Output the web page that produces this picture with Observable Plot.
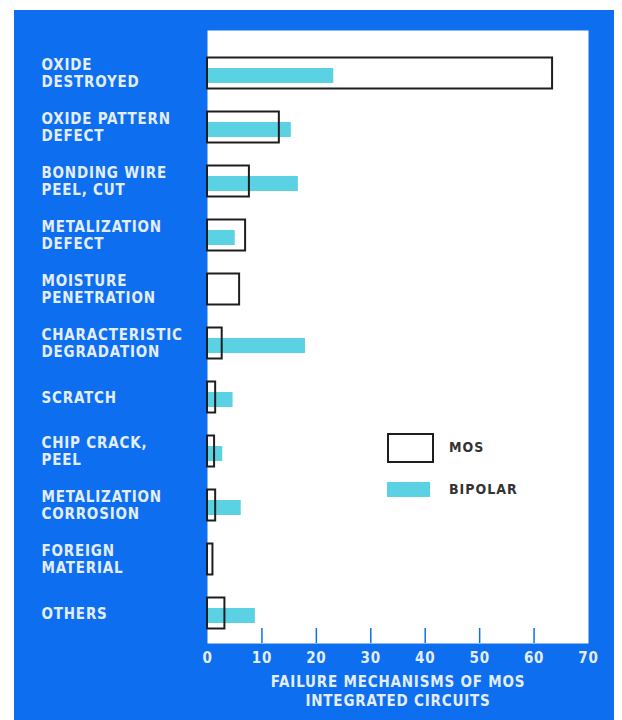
<!DOCTYPE html>
<html>
<head>
<meta charset="utf-8">
<script src="https://cdn.jsdelivr.net/npm/d3@7"></script>
<script src="https://cdn.jsdelivr.net/npm/@observablehq/plot@0.6"></script>
<style>
  html, body { margin: 0; padding: 0; background: #ffffff; }
  #wrap { position: relative; width: 622px; height: 720px; overflow: hidden; }
  #panel { position: absolute; left: 14px; top: 10px; width: 600px; height: 710px; background: #0e6ef0; }
  #chart { position: absolute; left: 0; top: 0; }
  .legend { position: absolute; font-family: "DejaVu Sans Condensed", "DejaVu Sans", sans-serif; font-weight: bold; font-size: 14px; letter-spacing: 1px; color: #333; }
  .sw { position: absolute; box-sizing: border-box; }
</style>
</head>
<body>
<div id="wrap">
  <div id="panel"></div>
  <div id="chart"></div>
  <div class="sw" style="left:387px; top:433px; width:47px; height:30px; border:2px solid #1e1e1e; background:#fff;"></div>
  <div class="legend" style="left:449px; top:439px;">MOS</div>
  <div class="sw" style="left:387px; top:482px; width:43px; height:15px; background:#5bd2e4;"></div>
  <div class="legend" style="left:449px; top:481px;">BIPOLAR</div>
</div>
<script>
const categories = [
  "OXIDE\nDESTROYED",
  "OXIDE PATTERN\nDEFECT",
  "BONDING WIRE\nPEEL, CUT",
  "METALIZATION\nDEFECT",
  "MOISTURE\nPENETRATION",
  "CHARACTERISTIC\nDEGRADATION",
  "SCRATCH",
  "CHIP CRACK,\nPEEL",
  "METALIZATION\nCORROSION",
  "FOREIGN\nMATERIAL",
  "OTHERS"
];
const mosValues     = [63.4, 13.2, 7.7, 7.0, 5.9, 2.7, 1.5, 1.3, 1.5, 1.0, 3.2];
const bipolarValues = [23.2, 15.4, 16.7, 5.1, 0, 18.0, 4.7, 2.8, 6.2, 0, 8.8];
const xTicks = [0, 10, 20, 30, 40, 50, 60, 70];
const xTitle = "FAILURE MECHANISMS OF MOS\nINTEGRATED CIRCUITS";

const blue = "#0e6ef0";
const cyan = "#5bd2e4";
const textColor = "#e4eefa";
const font = "'DejaVu Sans Condensed', 'DejaVu Sans', sans-serif";

const mos = categories.map((c, i) => ({cat: c, value: mosValues[i]}));
const bipolar = categories.map((c, i) => ({cat: c, value: bipolarValues[i]}));

const chart = Plot.plot({
  width: 622,
  height: 720,
  marginLeft: 207,
  marginRight: 34,
  marginTop: 30,
  marginBottom: 77,
  style: {background: "transparent", fontFamily: font, fontWeight: "bold", overflow: "visible"},
  x: {domain: [0, 70], ticks: xTicks},
  y: {type: "band", domain: categories, range: [45, 640], padding: 0, axis: null},
  marks: [
    Plot.frame({fill: "white", stroke: "none"}),
    Plot.ruleX(xTicks.slice(1, -1), {x: d => d, insetTop: 598, stroke: blue, strokeWidth: 1.5}),
    Plot.barX(bipolar, {x: "value", y: "cat", fill: cyan, insetTop: 22, insetBottom: 17}),
    Plot.barX(mos, {x: "value", y: "cat", fill: "none", stroke: "#1e1e1e", strokeWidth: 2, insetTop: 11.5, insetBottom: 11.5}),
    Plot.axisX({ticks: xTicks, tickSize: 0, tickPadding: 9, fill: textColor, fontSize: 15, label: null, fontWeight: "bold"}),
    Plot.text(categories, {y: d => d, text: d => d, frameAnchor: "left", dx: -166, textAnchor: "start",
      fill: textColor, fontSize: 15, lineHeight: 1.13, fontWeight: "bold"}),
    Plot.text([xTitle], {text: d => d, frameAnchor: "bottom", dy: 47, textAnchor: "middle", lineAnchor: "middle",
      fill: textColor, fontSize: 15, lineHeight: 1.27, fontWeight: "bold"})
  ]
});
chart.querySelectorAll("text").forEach(t => t.style.letterSpacing = "0.8px");
document.getElementById("chart").appendChild(chart);
</script>
</body>
</html>
